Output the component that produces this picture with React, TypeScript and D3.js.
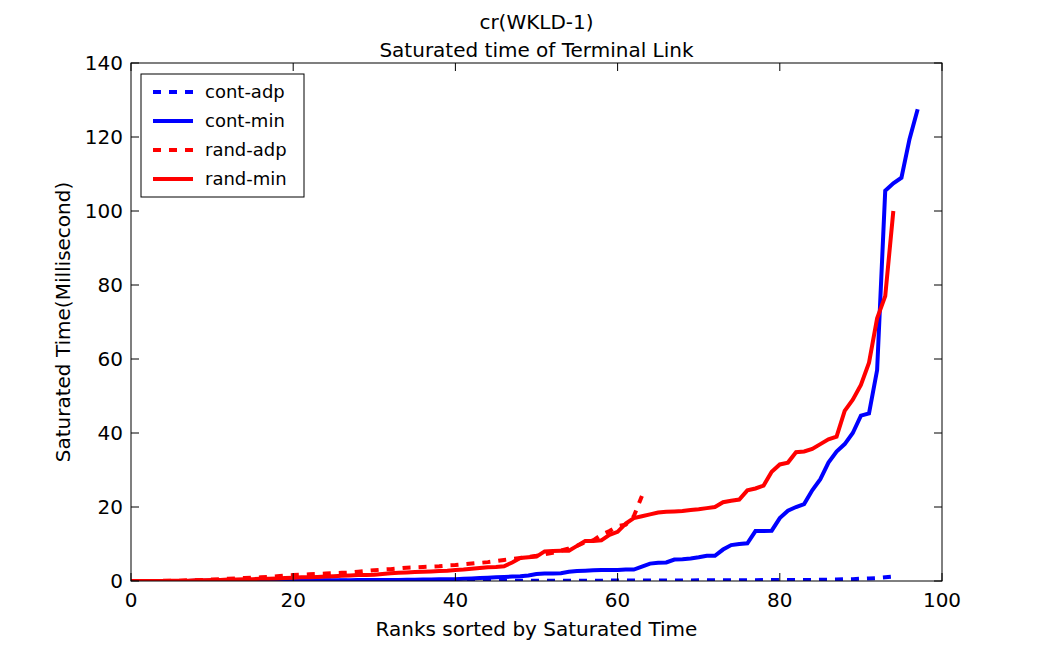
import * as d3 from 'd3'

const title1 = 'cr(WKLD-1)'
const title2 = 'Saturated time of Terminal Link'
const xLabel = 'Ranks sorted by Saturated Time'
const yLabel = 'Saturated Time(Millisecond)'
const xTicks = [0, 20, 40, 60, 80, 100]
const yTicks = [0, 20, 40, 60, 80, 100, 120, 140]

const contAdp = [
  0, 0, 0, 0, 0, 0, 0, 0, 0, 0, 0.05, 0.05, 0.05, 0.05, 0.05, 0.05, 0.05, 0.05, 0.05, 0.05,
  0.1, 0.1, 0.1, 0.1, 0.1, 0.1, 0.1, 0.1, 0.1, 0.1, 0.1, 0.1, 0.1, 0.1, 0.1, 0.1, 0.1, 0.1, 0.1, 0.1,
  0.1, 0.1, 0.1, 0.1, 0.1, 0.1, 0.1, 0.1, 0.1, 0.1, 0.1, 0.1, 0.1, 0.1, 0.1, 0.1, 0.1, 0.1, 0.1, 0.1,
  0.15, 0.15, 0.15, 0.15, 0.15, 0.15, 0.15, 0.15, 0.15, 0.15, 0.2, 0.2, 0.2, 0.2, 0.2, 0.2, 0.2, 0.2, 0.25, 0.25,
  0.3, 0.3, 0.3, 0.3, 0.3, 0.35, 0.35, 0.4, 0.45, 0.5, 0.6, 0.7, 0.8, 1.0, 1.2,
]
const contMin = [
  0, 0, 0, 0, 0, 0, 0, 0, 0.05, 0.05, 0.05, 0.05, 0.1, 0.1, 0.1, 0.1, 0.1, 0.1, 0.1, 0.15,
  0.15, 0.15, 0.2, 0.2, 0.2, 0.2, 0.2, 0.2, 0.25, 0.25, 0.3, 0.3, 0.3, 0.3, 0.35, 0.35, 0.4, 0.4, 0.45, 0.5,
  0.5, 0.6, 0.7, 0.8, 0.9, 1.0, 1.1, 1.2, 1.3, 1.5, 1.9, 2.0, 2.0, 2.1, 2.5, 2.7, 2.8, 2.9, 3.0, 3.0,
  3.0, 3.1, 3.1, 3.9, 4.7, 4.9, 5.0, 5.8, 5.9, 6.1, 6.4, 6.8, 6.8, 8.5, 9.7, 10.0, 10.2, 13.5, 13.5, 13.6,
  17.0, 19.0, 20.0, 20.8, 24.5, 27.5, 32.0, 35.0, 37.0, 40.0, 44.7, 45.3, 57.0, 105.5, 107.5, 109.0, 119.5, 127.5,
]
const randAdp = [
  0, 0, 0, 0, 0.1, 0.1, 0.1, 0.2, 0.2, 0.3, 0.4, 0.5, 0.6, 0.7, 0.8, 0.9, 1.0, 1.1, 1.3, 1.5,
  1.6, 1.7, 1.8, 1.9, 2.0, 2.1, 2.2, 2.3, 2.5, 2.7, 2.9, 3.1, 3.2, 3.4, 3.6, 3.7, 3.8, 3.9, 4.0, 4.2,
  4.3, 4.5, 4.7, 4.9, 5.1, 5.4, 5.7, 6.0, 6.2, 6.5, 6.8, 7.2, 7.6, 8.2, 8.8, 9.5, 10.5, 11.0, 12.5, 13.5,
  14.8, 15.2, 17.5, 23.0,
]
const randMin = [
  0, 0, 0, 0, 0, 0.1, 0.1, 0.1, 0.2, 0.2, 0.3, 0.3, 0.4, 0.4, 0.5, 0.5, 0.6, 0.6, 0.7, 0.8,
  0.9, 1.0, 1.0, 1.1, 1.2, 1.3, 1.4, 1.5, 1.6, 1.6, 1.7, 1.9, 2.1, 2.2, 2.3, 2.4, 2.5, 2.6, 2.7, 2.8,
  3.0, 3.1, 3.3, 3.5, 3.7, 3.8, 4.0, 5.0, 6.2, 6.4, 6.6, 8.0, 8.1, 8.2, 8.2, 9.5, 10.8, 10.8, 11.0, 12.5,
  13.3, 15.5, 17.0, 17.5, 18.0, 18.5, 18.7, 18.8, 18.9, 19.2, 19.4, 19.7, 20.0, 21.3, 21.7, 22.0, 24.5, 25.0, 25.8, 29.5,
  31.5, 32.0, 34.8, 35.0, 35.7, 37.0, 38.3, 39.0, 46.0, 49.0, 53.0, 59.0, 71.0, 77.0, 100.0,
]

const series = [
  { name: 'cont-adp', values: contAdp, color: '#0000ff', dash: '8,8' },
  { name: 'cont-min', values: contMin, color: '#0000ff', dash: '' },
  { name: 'rand-adp', values: randAdp, color: '#ff0000', dash: '8,8' },
  { name: 'rand-min', values: randMin, color: '#ff0000', dash: '' },
]

const W = 1046
const H = 647
const m = { left: 131, right: 104, top: 63, bottom: 66 }

export default function App() {
  const x = d3.scaleLinear().domain([0, 100]).range([m.left, W - m.right])
  const y = d3.scaleLinear().domain([0, 140]).range([H - m.bottom, m.top])
  const line = d3
    .line<number>()
    .x((_, i) => x(i))
    .y((d) => y(d))
  const font = 'DejaVu Sans, sans-serif'
  const x0 = m.left
  const x1 = W - m.right
  const y0 = H - m.bottom
  const y1 = m.top
  return (
    <svg width={W} height={H} style={{ position: 'absolute', left: 0, top: 0 }} fontFamily={font}>
      <rect width={W} height={H} fill="#fff" />
      <text x={(x0 + x1) / 2} y={29} textAnchor="middle" fontSize={20}>{title1}</text>
      <text x={(x0 + x1) / 2} y={57} textAnchor="middle" fontSize={20}>{title2}</text>
      <clipPath id="clip">
        <rect x={x0} y={y1} width={x1 - x0} height={y0 - y1} />
      </clipPath>
      <g clipPath="url(#clip)">
        {series.map((s) => (
          <path key={s.name} d={line(s.values) ?? ''} fill="none" stroke={s.color} strokeWidth={4} strokeDasharray={s.dash} />
        ))}
      </g>
      <rect x={x0} y={y1} width={x1 - x0} height={y0 - y1} fill="none" stroke="#000" strokeWidth={1} />
      {xTicks.map((t) => (
        <g key={t}>
          <line x1={x(t)} x2={x(t)} y1={y0} y2={y0 - 8} stroke="#000" />
          <line x1={x(t)} x2={x(t)} y1={y1} y2={y1 + 8} stroke="#000" />
          <text x={x(t)} y={y0 + 26} textAnchor="middle" fontSize={20}>{t}</text>
        </g>
      ))}
      {yTicks.map((t) => (
        <g key={t}>
          <line x1={x0} x2={x0 + 8} y1={y(t)} y2={y(t)} stroke="#000" />
          <line x1={x1} x2={x1 - 8} y1={y(t)} y2={y(t)} stroke="#000" />
          <text x={x0 - 8} y={y(t) + 7} textAnchor="end" fontSize={20}>{t}</text>
        </g>
      ))}
      <text x={(x0 + x1) / 2} y={636} textAnchor="middle" fontSize={20}>{xLabel}</text>
      <text transform={`translate(70,${(y0 + y1) / 2}) rotate(-90)`} textAnchor="middle" fontSize={20}>{yLabel}</text>
      <g transform="translate(141,74)">
        <rect width={163} height={123} fill="#fff" stroke="#000" />
        {series.map((s, i) => (
          <g key={s.name} transform={`translate(0,${18 + i * 29})`}>
            <line x1={12} x2={52} y1={0} y2={0} stroke={s.color} strokeWidth={4} strokeDasharray={s.dash} />
            <text x={64} y={6} fontSize={18}>{s.name}</text>
          </g>
        ))}
      </g>
    </svg>
  )
}
